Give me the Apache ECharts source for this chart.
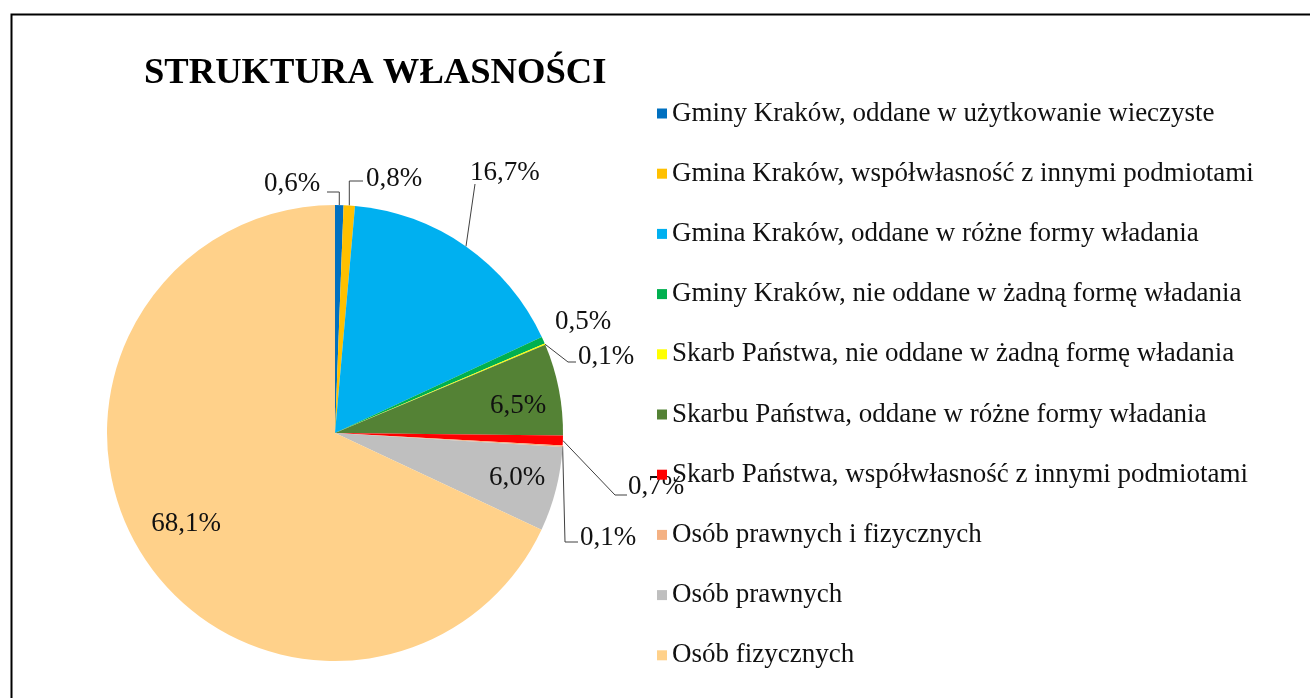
<!DOCTYPE html>
<html>
<head>
<meta charset="utf-8">
<script src="https://cdn.jsdelivr.net/npm/echarts@6/dist/echarts.min.js"></script>
<style>html,body{margin:0;padding:0;background:#fff}#c{width:1310px;height:698px}</style>
</head>
<body>
<div id="c"></div>
<script>
const categories = [
  'Gminy Kraków, oddane w użytkowanie wieczyste',
  'Gmina Kraków, współwłasność z innymi podmiotami',
  'Gmina Kraków, oddane w różne formy władania',
  'Gminy Kraków, nie oddane w żadną formę władania',
  'Skarb Państwa, nie oddane w żadną formę władania',
  'Skarbu Państwa, oddane w różne formy władania',
  'Skarb Państwa, współwłasność z innymi podmiotami',
  'Osób prawnych i fizycznych',
  'Osób prawnych',
  'Osób fizycznych'
];
const values = [0.6, 0.8, 16.7, 0.5, 0.1, 6.5, 0.7, 0.1, 6.0, 68.1];
const colors = ['#0070C0','#FFC000','#00B0F0','#00B050','#FFFF00','#548235','#FF0000','#F4B183','#BFBFBF','#FFD18A'];

// label placement (Excel-like manual label positions)
// kind: 'out' = left-aligned outside label with leader, 'in' = centered inside label
const labelPlace = [
  {kind:'out', x:264, y:184, line:[[null,192],[327,192]]},
  {kind:'out', x:366, y:179, line:[[null,181],[363,181]]},
  {kind:'out', x:470, y:173, line:[[475,184],[475,184]]},
  {kind:'out', x:555, y:322, line:null},
  {kind:'out', x:578, y:357, line:[[568,362],[576,362]]},
  {kind:'in',  x:518, y:406},
  {kind:'out', x:628, y:487, line:[[615,495],[627,495]]},
  {kind:'out', x:580, y:538, line:[[565,542],[578,542]]},
  {kind:'in',  x:517, y:478},
  {kind:'in',  x:186, y:524}
];

const chart = echarts.init(document.getElementById('c'), null, {renderer:'canvas'});
const font = '"Liberation Serif", "Times New Roman", serif';

const data = values.map((v,i)=>({
  name: categories[i],
  value: v,
  itemStyle:{color: colors[i]},
  labelLine:{show: !!labelPlace[i].line}
}));

chart.setOption({
  animation:false,
  backgroundColor:'#fff',
  graphic:[{
    type:'rect', left:9, top:12, shape:{width:1320, height:720},
    style:{fill:'none', stroke:'#000', lineWidth:2}, silent:true, z:-1
  }],
  title:{
    text:'STRUKTURA WŁASNOŚCI', left:144, top:55, padding:0,
    textStyle:{fontFamily:font, fontWeight:'bold', fontSize:36.6, color:'#000'}
  },
  legend:{
    orient:'vertical', left:657, top:100, padding:0,
    itemWidth:10, itemHeight:10, itemGap:33.2, icon:'rect',
    textStyle:{fontFamily:font, fontSize:27, lineHeight:27, color:'#111'},
    data: categories
  },
  series:[{
    type:'pie', center:[335,433], radius:228, startAngle:90, clockwise:true,
    avoidLabelOverlap:false, minAngle:0,
    itemStyle:{borderWidth:0},
    label:{
      show:true, position:'outside',
      fontFamily:font, fontSize:27, color:'#111',
      formatter: p => p.value.toFixed(1).replace('.', ',') + '%'
    },
    labelLine:{show:true, lineStyle:{color:'#404040', width:1}, length:10, length2:10},
    labelLayout: function(params){
      const lp = labelPlace[params.dataIndex];
      if (lp.kind === 'in') {
        return {x: lp.x, y: lp.y, align:'center', verticalAlign:'middle'};
      }
      const res = {x: lp.x, y: lp.y, align:'left', verticalAlign:'middle'};
      if (lp.line && params.labelLinePoints) {
        const p0 = params.labelLinePoints[0];
        res.labelLinePoints = [p0].concat(lp.line.map(pt => [pt[0]===null ? p0[0] : pt[0], pt[1]]));
      }
      return res;
    },
    data: data
  }]
});
</script>
</body>
</html>
